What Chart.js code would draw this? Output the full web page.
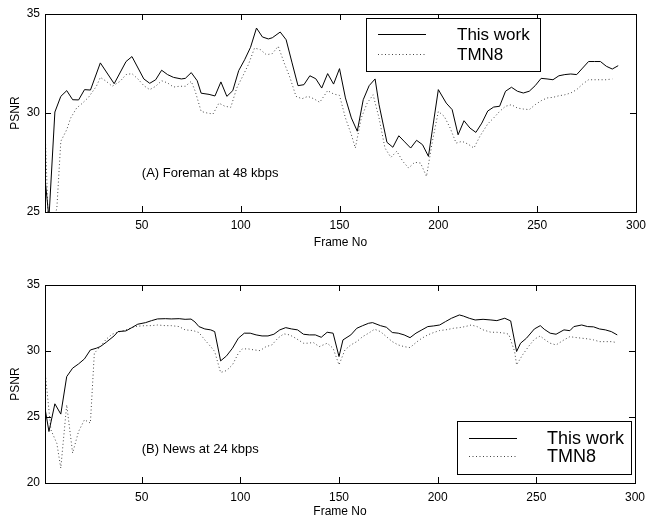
<!DOCTYPE html>
<html>
<head>
<meta charset="utf-8">
<script src="https://cdn.jsdelivr.net/npm/chart.js@4.4.1/dist/chart.umd.min.js"></script>
<style>
  body { margin: 0; background: #fff; }
  .panel { position: absolute; left: 0; width: 652px; }
</style>
</head>
<body>
<div class="panel" style="top:0;height:260px"><canvas id="chartA" width="652" height="260"></canvas></div>
<div class="panel" style="top:260px;height:259px"><canvas id="chartB" width="652" height="259"></canvas></div>
<script>
// (A) Foreman at 48 kbps
var framesA = [1, 3, 6, 9, 12, 15, 18, 21, 24, 29, 36, 42, 45, 51, 54, 57, 60, 63, 66, 70,
  72, 75, 78, 80, 84, 87, 90, 93, 96, 99, 102, 105, 108, 111, 114, 116, 120, 123, 126, 129,
  132, 135, 138, 141, 144, 147, 150, 153, 156, 159, 162, 165, 168, 170, 174, 177, 180, 183,
  186, 189, 192, 195, 200, 204, 207, 210, 213, 216, 219, 222, 225, 228, 231, 234, 237, 240,
  243, 246, 249, 252, 255, 258, 261, 264, 267, 270, 273, 276, 279, 282, 285, 288, 291];
var thisWorkA = [26.7, 24.7, 30.05, 30.84, 31.13, 30.67, 30.66, 31.18, 31.16, 32.53, 31.48,
  32.6, 32.85, 31.72, 31.5, 31.68, 32.16, 31.94, 31.8, 31.72, 31.75, 32.04, 31.63, 31.0,
  30.94, 30.86, 31.57, 30.84, 31.13, 32.14, 32.69, 33.32, 34.29, 33.84, 33.74, 33.8, 34.09,
  33.7, 32.53, 31.38, 31.43, 31.88, 31.73, 31.26, 31.99, 31.46, 32.24, 30.76, 29.75, 29.08,
  30.67, 31.38, 31.72, 30.42, 28.52, 28.27, 28.85, 28.54, 28.23, 28.62, 28.4, 27.81, 31.18,
  30.5, 30.17, 28.9, 29.61, 29.24, 29.02, 29.49, 30.1, 30.3, 30.34, 31.1, 31.3, 31.1, 31.01,
  31.1, 31.38, 31.75, 31.72, 31.68, 31.88, 31.94, 31.97, 31.94, 32.27, 32.6, 32.6, 32.6,
  32.36, 32.22, 32.39];
var framesTmnA = [1, 3, 7, 9, 12, 14, 17, 20, 23, 27, 29, 32, 35, 39, 42, 45, 48, 51, 54, 57,
  60, 63, 66, 69, 72, 75, 77, 80, 83, 86, 89, 92, 95, 98, 101, 104, 107, 110, 113, 116, 119,
  122, 125, 128, 131, 134, 137, 140, 144, 147, 150, 153, 156, 158, 161, 164, 167, 170, 173,
  176, 179, 182, 185, 188, 191, 194, 197, 200, 203, 206, 209, 212, 215, 218, 221, 225, 228,
  231, 234, 237, 240, 243, 246, 249, 252, 255, 258, 261, 264, 267, 270, 273, 276, 279, 282,
  285, 288];
var tmn8A = [29.3, 23.5, 25.2, 28.57, 29.16, 29.75, 30.25, 30.5, 30.79, 31.35, 31.8, 31.6,
  31.35, 31.6, 31.94, 31.99, 31.72, 31.38, 31.18, 31.35, 31.63, 31.52, 31.31, 31.35, 31.35,
  31.6, 31.1, 30.08, 30.0, 29.95, 30.5, 30.34, 30.29, 31.26, 31.85, 32.47, 33.28, 33.2,
  32.94, 33.0, 33.37, 32.53, 31.77, 30.84, 30.72, 30.84, 30.72, 30.54, 31.13, 30.96, 30.89,
  29.75, 28.9, 28.23, 29.75, 30.5, 30.92, 29.75, 28.23, 27.76, 28.07, 27.56, 27.22, 27.51,
  27.47, 26.8, 28.57, 30.08, 29.83, 29.24, 28.48, 28.57, 28.43, 28.23, 28.82, 29.45, 29.75,
  30.08, 30.34, 30.42, 30.25, 30.2, 30.17, 30.42, 30.62, 30.76, 30.79, 30.87, 30.92, 31.01,
  31.18, 31.46, 31.68, 31.68, 31.68, 31.68, 31.72];

// (B) News at 24 kbps
var framesB = [1, 3, 6, 9, 12, 15, 18, 21, 24, 27, 29, 32, 36, 38, 42, 45, 48, 52, 55, 58,
  62, 65, 69, 72, 75, 77, 79, 82, 85, 87, 90, 93, 96, 99, 102, 105, 108, 111, 114, 117, 120,
  123, 126, 129, 132, 135, 138, 141, 144, 147, 150, 152, 156, 159, 162, 165, 167, 171, 174,
  177, 180, 183, 186, 189, 192, 195, 198, 201, 204, 207, 211, 213, 216, 219, 223, 227, 230,
  234, 237, 240, 242, 245, 249, 252, 254, 257, 260, 264, 267, 269, 273, 276, 279, 282, 285,
  288, 291];
var thisWorkB = [25.67, 23.9, 26.0, 25.22, 28.06, 28.7, 29.02, 29.4, 30.08, 30.21, 30.33,
  30.66, 31.14, 31.47, 31.52, 31.77, 32.03, 32.15, 32.3, 32.43, 32.45, 32.43, 32.45, 32.4,
  32.42, 32.2, 31.85, 31.67, 31.6, 31.47, 29.25, 29.63, 30.21, 30.97, 31.35, 31.35, 31.22,
  31.14, 31.14, 31.27, 31.6, 31.77, 31.67, 31.6, 31.27, 31.22, 31.22, 31.04, 31.42, 31.35,
  29.58, 30.84, 31.22, 31.72, 31.92, 32.1, 32.15, 31.92, 31.8, 31.4, 31.35, 31.22, 31.01,
  31.35, 31.6, 31.85, 31.9, 31.97, 32.23, 32.48, 32.73, 32.65, 32.48, 32.35, 32.4, 32.35,
  32.3, 32.48, 32.28, 29.96, 30.59, 30.97, 31.67, 31.92, 31.65, 31.35, 31.27, 31.6, 31.54,
  31.85, 31.97, 31.85, 31.83, 31.67, 31.6, 31.47, 31.22];
var framesTmnB = [1, 4, 7, 9, 12, 15, 18, 21, 24, 26, 29, 32, 35, 39, 42, 45, 48, 52, 55, 58,
  62, 65, 69, 72, 76, 79, 82, 85, 87, 90, 93, 96, 99, 101, 104, 107, 110, 113, 116, 119, 122,
  125, 128, 132, 134, 137, 140, 144, 147, 150, 153, 156, 159, 162, 165, 168, 171, 174, 177,
  180, 183, 186, 189, 192, 195, 198, 201, 204, 208, 211, 214, 217, 220, 223, 227, 230, 234,
  236, 239, 240, 243, 246, 249, 252, 254, 257, 260, 264, 267, 269, 273, 276, 279, 282, 285,
  288, 290];
var tmn8B = [28.5, 24.03, 23.0, 21.13, 25.92, 22.27, 23.9, 24.79, 24.54, 29.83, 30.33, 30.89,
  31.27, 31.47, 31.6, 31.77, 31.88, 31.92, 31.92, 31.97, 31.92, 31.92, 31.85, 31.6, 31.55,
  31.4, 30.84, 30.33, 29.96, 28.37, 28.52, 28.95, 29.83, 30.16, 30.16, 30.08, 30.03, 30.33,
  30.46, 30.97, 31.3, 31.22, 30.97, 30.59, 30.59, 30.64, 30.33, 30.59, 30.21, 28.95, 30.08,
  30.46, 30.71, 31.09, 31.35, 31.65, 31.47, 31.09, 30.71, 30.46, 30.33, 30.26, 30.64, 30.97,
  31.22, 31.4, 31.55, 31.6, 31.72, 31.77, 31.85, 31.97, 31.85, 31.6, 31.42, 31.42, 31.35,
  31.27, 29.96, 28.95, 29.7, 30.33, 30.89, 31.14, 30.89, 30.59, 30.46, 30.84, 31.09, 31.04,
  30.97, 30.92, 30.84, 30.71, 30.71, 30.71, 30.66];

var xTicks = [50, 100, 150, 200, 250, 300];
var yTicksA = [25, 30, 35];
var yTicksB = [20, 25, 30, 35];

var FONT = 'Liberation Sans, Arial, Helvetica, sans-serif';

function toPoints(xs, ys) {
  return xs.map(function (x, i) { return { x: x, y: ys[i] }; });
}

// axes box, inward ticks, legend and the panel note
var panelDecor = {
  id: 'panelDecor',
  afterDraw: function (chart, args, opts) {
    var ctx = chart.ctx;
    var a = chart.chartArea;
    var xs = chart.scales.x, ys = chart.scales.y;
    var len = 6;
    ctx.save();
    ctx.strokeStyle = '#000';
    ctx.lineWidth = 1;
    ctx.strokeRect(Math.round(a.left) + 0.5, Math.round(a.top) + 0.5,
      Math.round(a.right - a.left), Math.round(a.bottom - a.top));
    ctx.beginPath();
    xs.ticks.forEach(function (t) {
      var px = Math.round(xs.getPixelForValue(t.value)) + 0.5;
      ctx.moveTo(px, a.bottom); ctx.lineTo(px, a.bottom - len);
      ctx.moveTo(px, a.top); ctx.lineTo(px, a.top + len);
    });
    ys.ticks.forEach(function (t) {
      var py = Math.round(ys.getPixelForValue(t.value)) + 0.5;
      ctx.moveTo(a.left, py); ctx.lineTo(a.left + len, py);
      ctx.moveTo(a.right, py); ctx.lineTo(a.right - len, py);
    });
    ctx.stroke();

    // note inside the plot
    ctx.fillStyle = '#000';
    ctx.font = '13px ' + FONT;
    ctx.textBaseline = 'middle';
    ctx.textAlign = 'left';
    ctx.fillText(opts.note, xs.getPixelForValue(opts.noteX), ys.getPixelForValue(opts.noteY));

    // legend
    var b = opts.legend;
    ctx.fillStyle = '#fff';
    ctx.fillRect(b.x, b.y, b.w, b.h);
    ctx.strokeRect(b.x + 0.5, b.y + 0.5, b.w, b.h);
    ctx.font = b.size + 'px ' + FONT;
    chart.data.datasets.forEach(function (ds, i) {
      var ly = b.y + b.rows[i];
      ctx.beginPath();
      ctx.strokeStyle = ds.borderColor;
      ctx.setLineDash(ds.borderDash || []);
      ctx.moveTo(b.x + b.lineX0, Math.round(ly) + 0.5);
      ctx.lineTo(b.x + b.lineX1, Math.round(ly) + 0.5);
      ctx.stroke();
      ctx.setLineDash([]);
      ctx.fillStyle = '#000';
      ctx.fillText(ds.label, b.x + b.textX, ly + 1);
    });
    ctx.restore();
  }
};

function makePanel(id, data, yMin, yMax, yTicks, pad, xAxisH, xTickPad, xTitlePad, decor) {
  return new Chart(document.getElementById(id), {
    type: 'line',
    data: {
      datasets: [{
        label: 'This work',
        data: toPoints(data[0], data[1]),
        borderColor: '#000',
        borderWidth: 1,
        pointRadius: 0,
        tension: 0
      }, {
        label: 'TMN8',
        data: toPoints(data[2], data[3]),
        borderColor: '#444',
        borderWidth: 1,
        borderDash: [1, 2.5],
        pointRadius: 0,
        tension: 0
      }]
    },
    options: {
      responsive: false,
      animation: false,
      layout: { padding: { top: pad, right: 11, left: 0, bottom: 0 } },
      plugins: {
        legend: { display: false },
        tooltip: { enabled: false },
        panelDecor: decor
      },
      scales: {
        x: {
          type: 'linear',
          min: 1,
          max: 300,
          afterBuildTicks: function (s) { s.ticks = xTicks.map(function (v) { return { value: v }; }); },
          afterFit: function (s) { s.height = xAxisH; },
          grid: { display: false, drawTicks: false },
          border: { display: false },
          ticks: { color: '#000', font: { family: FONT, size: 12 }, padding: xTickPad, maxRotation: 0, autoSkip: false },
          title: { display: true, text: 'Frame No', color: '#000', font: { family: FONT, size: 12 },
            padding: { top: 0, bottom: xTitlePad } }
        },
        y: {
          min: yMin,
          max: yMax,
          afterBuildTicks: function (s) { s.ticks = yTicks.map(function (v) { return { value: v }; }); },
          afterFit: function (s) { s.width = 45; },
          grid: { display: false, drawTicks: false },
          border: { display: false },
          ticks: { color: '#000', font: { family: FONT, size: 12 }, padding: 5 },
          title: { display: true, text: 'PSNR', color: '#000', font: { family: FONT, size: 12 },
            padding: { top: 8, bottom: 0 } }
        }
      }
    },
    plugins: [panelDecor]
  });
}

makePanel('chartA', [framesA, thisWorkA, framesTmnA, tmn8A], 25, 35, yTicksA, 14, 48, 6, 10, {
  note: '(A) Foreman at 48 kbps', noteX: 50, noteY: 26.95,
  legend: { x: 366, y: 18, w: 174, h: 53, size: 17, rows: [16, 36], lineX0: 12, lineX1: 60, textX: 91 }
});
makePanel('chartB', [framesB, thisWorkB, framesTmnB, tmn8B], 20, 35, yTicksB, 25, 36, 7, 0, {
  note: '(B) News at 24 kbps', noteX: 50, noteY: 22.57,
  legend: { x: 457, y: 161, w: 174, h: 53, size: 18, rows: [17, 35], lineX0: 12, lineX1: 60, textX: 90 }
});
</script>
</body>
</html>
